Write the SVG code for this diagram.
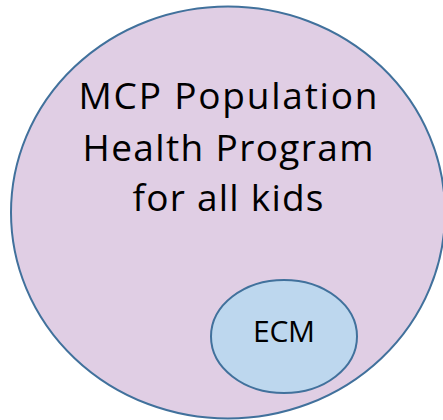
<svg xmlns="http://www.w3.org/2000/svg" width="443" height="420" viewBox="0 0 443 420">
<style>
.shape{stroke:#41719C;stroke-width:2}
.t{font-family:"Open Sans","Noto Sans",sans-serif;fill:#000;text-anchor:middle}
</style>
<rect width="443" height="420" fill="#fff"/>
<g id="mcp">
<ellipse class="shape" cx="228" cy="212.5" rx="217" ry="206" fill="#E0CEE4"/>
<text class="t" font-size="37" x="228" y="109" textLength="299" lengthAdjust="spacing">MCP Population</text>
<text class="t" font-size="37" x="228" y="161" textLength="291" lengthAdjust="spacing">Health Program</text>
<text class="t" font-size="37" x="228" y="211" textLength="191" lengthAdjust="spacing">for all kids</text>
</g>
<g id="ecm">
<ellipse class="shape" cx="284" cy="336.5" rx="73" ry="56.5" fill="#BDD7EE"/>
<text class="t" font-size="30" x="284" y="342" textLength="62" lengthAdjust="spacing">ECM</text>
</g>
<g id="connectors"/>
</svg>
